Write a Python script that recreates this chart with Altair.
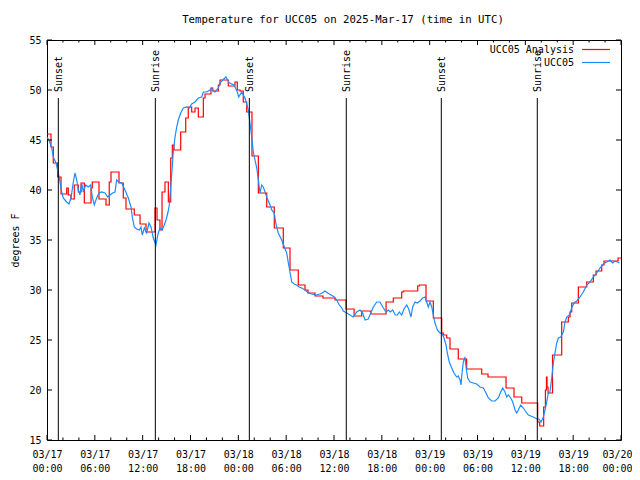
import altair as alt
import pandas as pd

FONT = "DejaVu Sans Mono"
FS = 10

TITLE = "Temperature for UCC05 on 2025-Mar-17 (time in UTC)"
Y_TITLE = "degrees F"
SERIES = ["UCC05 Analysis", "UCC05"]
COLORS = ["#ff0000", "#1a8cff"]

# hours since 2025-03-17 00:00 UTC
analysis_hours = [
    0.00, 0.50, 0.79, 1.34, 1.76, 2.47, 2.67, 3.01, 3.42, 3.93,
    4.27, 4.68, 5.52, 5.68, 6.52, 7.40, 7.81, 8.03, 9.03, 9.57,
    9.91, 10.95, 11.67, 12.42, 13.55, 13.80, 14.17, 14.43, 14.80, 15.22,
    15.52, 15.72, 15.93, 16.77, 17.40, 17.72, 18.15, 18.57, 18.98, 19.61,
    19.82, 20.57, 20.79, 21.49, 21.70, 22.74, 23.58, 23.87, 24.21, 24.62,
    25.05, 25.71, 26.51, 27.56, 28.51, 29.64, 30.48, 31.52, 32.36, 32.74,
    33.62, 34.62, 36.13, 37.51, 38.52, 39.48, 40.61, 42.53, 43.44, 44.49,
    44.69, 46.50, 46.70, 47.54, 48.46, 49.51, 49.71, 50.14, 50.55, 51.59,
    52.64, 54.53, 55.32, 57.58, 58.58, 59.55, 61.55, 61.80, 62.30, 62.52,
    62.65, 62.72, 62.85, 63.41, 64.56, 65.39, 65.61, 65.82, 66.65, 67.70,
    68.53, 68.87, 69.58, 69.87, 71.63, 72.00,
]
analysis_temp = [
    45.6, 44.3, 42.7, 41.3, 39.6, 40.2, 39.5, 39.1, 40.5, 39.8,
    40.7, 38.7, 40.2, 40.8, 39.1, 38.5, 40.8, 41.8, 40.7, 39.2,
    38.1, 37.5, 36.6, 35.8, 38.2, 37.0, 36.0, 39.8, 40.8, 38.8,
    43.2, 44.5, 44.0, 45.8, 47.2, 48.3, 47.8, 48.2, 47.3, 49.2,
    49.6, 50.2, 49.9, 50.5, 51.0, 50.4, 50.8, 50.0, 49.9, 48.8,
    47.8, 43.4, 39.7, 38.3, 36.2, 34.2, 32.0, 30.5, 30.0, 29.7,
    29.4, 29.2, 29.0, 28.1, 27.4, 27.9, 27.6, 28.8, 29.2, 29.8,
    29.9, 30.4, 30.5, 28.9, 27.2, 25.7, 25.5, 25.2, 24.1, 23.1,
    22.1, 21.6, 21.3, 20.2, 19.3, 18.7, 16.8, 16.4, 18.3, 20.0,
    21.3, 20.3, 19.7, 23.5, 26.8, 27.3, 27.8, 28.7, 30.3, 30.8,
    31.5, 31.9, 32.5, 32.9, 33.2, 33.2,
]

obs_hours = [
    0.00, 0.25, 0.59, 0.79, 1.13, 1.42, 1.63, 1.84, 2.04, 2.47,
    2.76, 3.01, 3.30, 3.51, 3.73, 3.93, 4.14, 4.35, 4.55, 4.85,
    5.18, 5.48, 5.68, 5.93, 6.23, 6.52, 6.86, 7.28, 7.61, 7.90,
    8.24, 8.53, 8.74, 9.03, 9.37, 9.78, 10.20, 10.54, 10.70, 10.95,
    11.25, 11.58, 11.79, 11.95, 12.21, 12.51, 12.79, 13.05, 13.33, 13.67,
    13.89, 14.17, 14.46, 14.71, 14.93, 15.18, 15.34, 15.64, 15.84, 16.06,
    16.27, 16.47, 16.77, 17.10, 17.52, 17.85, 18.15, 18.57, 18.98, 19.41,
    19.61, 20.03, 20.45, 20.66, 20.86, 21.07, 21.49, 21.79, 22.04, 22.45,
    22.87, 23.46, 23.87, 24.05, 24.42, 24.62, 24.84, 25.09, 25.25, 25.46,
    25.68, 25.88, 26.09, 26.31, 26.51, 26.72, 26.93, 27.13, 27.35, 27.56,
    27.97, 28.19, 28.51, 28.69, 29.01, 29.44, 29.77, 30.07, 30.27, 30.48,
    30.70, 31.02, 31.32, 31.61, 31.95, 32.36, 32.78, 33.20, 33.71, 34.25,
    34.53, 34.87, 35.21, 35.63, 36.04, 36.34, 36.67, 36.97, 37.17, 37.59,
    38.01, 38.42, 38.85, 39.26, 39.60, 39.89, 40.30, 40.61, 40.93, 41.36,
    41.77, 42.11, 42.52, 42.81, 43.06, 43.36, 43.69, 43.94, 44.19, 44.49,
    44.78, 45.12, 45.37, 45.66, 45.87, 46.16, 46.45, 46.79, 47.13, 47.42,
    47.63, 47.83, 48.04, 48.26, 48.46, 48.67, 48.96, 49.30, 49.59, 49.80,
    50.05, 50.21, 50.46, 50.77, 51.05, 51.39, 51.59, 51.81, 51.93, 52.06,
    52.22, 52.43, 52.56, 52.77, 53.06, 53.48, 53.90, 54.32, 54.73, 55.07,
    55.36, 55.79, 56.20, 56.61, 56.91, 57.16, 57.45, 57.67, 57.87, 58.17,
    58.42, 58.71, 58.92, 59.12, 59.42, 59.75, 60.09, 60.38, 60.68, 61.00,
    61.43, 61.72, 61.97, 62.26, 62.47, 62.68, 62.88, 63.09, 63.31, 63.51,
    63.72, 63.94, 64.14, 64.44, 64.77, 64.98, 65.19, 65.52, 65.82, 66.11,
    66.45, 66.86, 67.27, 67.70, 68.11, 68.53, 68.95, 69.37, 69.78, 70.21,
    70.62, 70.96, 71.25, 71.54, 71.79,
]
obs_temp = [
    45.3, 45.0, 44.2, 43.3, 42.7, 41.7, 40.8, 39.8, 39.2, 38.8,
    38.6, 39.2, 40.8, 41.7, 41.0, 40.0, 39.5, 40.7, 39.8, 40.5,
    40.3, 40.5, 39.3, 38.5, 39.2, 39.7, 39.8, 39.7, 39.3, 39.5,
    39.7, 39.8, 41.0, 40.8, 40.7, 40.0, 39.2, 38.3, 37.3, 36.3,
    36.1, 36.0, 36.3, 35.5, 36.2, 35.7, 36.7, 36.3, 35.2, 34.5,
    35.5, 36.2, 36.0, 36.5, 37.0, 37.8, 38.5, 41.5, 43.8, 45.3,
    46.3, 47.0, 47.7, 48.2, 48.3, 48.2, 48.6, 48.8, 49.2, 49.3,
    49.8, 49.8, 50.0, 50.2, 49.9, 49.8, 50.2, 50.8, 51.0, 51.3,
    50.7, 50.5, 49.8, 49.3, 49.8, 49.5, 49.2, 48.5, 48.0, 46.7,
    45.3, 43.8, 43.0, 42.2, 41.0, 39.7, 40.5, 40.3, 39.8, 39.3,
    38.5, 38.0, 37.7, 36.7, 35.7, 35.0, 34.3, 33.7, 32.7, 31.8,
    30.8, 30.6, 30.5, 30.3, 30.2, 30.0, 29.7, 29.6, 29.5, 29.6,
    29.7, 29.9, 29.7, 29.5, 29.3, 29.0, 28.5, 28.2, 27.9, 27.7,
    27.5, 27.3, 27.8, 28.0, 27.7, 27.0, 27.1, 27.7, 28.3, 28.8,
    28.8, 28.3, 27.8, 28.0, 27.8, 28.0, 27.5, 27.5, 27.8, 27.5,
    28.1, 28.5, 28.1, 27.3, 28.3, 28.8, 28.7, 28.9, 29.2, 29.3,
    28.8, 28.3, 28.8, 28.3, 27.5, 26.7, 26.0, 25.7, 25.6, 25.2,
    24.5, 23.7, 22.8, 22.2, 21.7, 21.3, 21.4, 21.0, 20.5, 21.7,
    22.8, 23.3, 22.3, 21.2, 20.8, 20.7, 20.6, 20.3, 20.2, 19.7,
    19.2, 18.9, 18.9, 19.2, 19.8, 20.2, 19.8, 19.3, 19.5, 19.2,
    18.8, 18.0, 17.7, 18.0, 18.5, 18.2, 17.8, 17.5, 17.4, 17.3,
    17.1, 17.1, 16.8, 17.3, 18.0, 18.8, 19.7, 19.8, 21.2, 22.7,
    23.7, 24.7, 25.2, 25.3, 25.8, 26.8, 27.3, 27.5, 28.2, 28.7,
    28.9, 29.3, 29.8, 30.5, 30.8, 31.3, 31.7, 32.2, 32.6, 32.8,
    33.0, 32.7, 32.9, 32.8, 32.7,
]

sun_hours = [1.42, 13.59, 25.38, 37.54, 49.46, 61.50]
sun_labels = ["Sunset", "Sunrise", "Sunset", "Sunrise", "Sunset", "Sunrise"]

major_ticks = [0, 6, 12, 18, 24, 30, 36, 42, 48, 54, 60, 66, 72]
minor_ticks = [2, 4, 8, 10, 14, 16, 20, 22, 26, 28, 32, 34, 38, 40,
               44, 46, 50, 52, 56, 58, 62, 64, 68, 70]
y_ticks = [15, 20, 25, 30, 35, 40, 45, 50, 55]

W, H = 574, 400

xs = alt.Scale(domain=[0, 72], nice=False, zero=False)
ys = alt.Scale(domain=[15, 55], nice=False, zero=False)

x_label_expr = ("['03/' + (17 + floor(datum.value / 24)), "
                "(datum.value % 24 < 10 ? '0' : '') + (datum.value % 24) + ':00']")

X_AXIS = alt.Axis(
    values=major_ticks, labelExpr=x_label_expr, ticks=False, domain=False,
    grid=False, labelPadding=9, labelLineHeight=14, labelOverlap=False,
    labelFlush=False, title=None, labelBaseline="top",
    labelOffset={"condition": {"test": "datum.value == 72", "value": -4}, "value": 0})
Y_AXIS = alt.Axis(
    values=y_ticks, ticks=False, domain=False, grid=False, labelPadding=6,
    labelOverlap=False, labelFlush=False,
    title=Y_TITLE, titleX=-32, titleY=200, titleAngle=270,
    titleAlign="center", titleBaseline="middle")


def X(field):
    return alt.X(field, scale=xs, axis=X_AXIS)


def Y(field):
    return alt.Y(field, scale=ys, axis=Y_AXIS)


analysis_df = pd.DataFrame({"h": analysis_hours, "t": analysis_temp})
obs_df = pd.DataFrame({"h": obs_hours, "t": obs_temp})
sun_df = pd.DataFrame({"h": sun_hours, "label": sun_labels})
major_df = pd.DataFrame({"h": major_ticks})
minor_df = pd.DataFrame({"h": minor_ticks})
ytick_df = pd.DataFrame({"t": y_ticks})

red = alt.Chart(analysis_df).mark_line(
    interpolate="step-after", color=COLORS[0], strokeWidth=1.2
).encode(x=X("h:Q"), y=Y("t:Q"))

blue = alt.Chart(obs_df).mark_line(color=COLORS[1], strokeWidth=1.2).encode(
    x=X("h:Q"), y=Y("t:Q"))

sun_rules = alt.Chart(sun_df).mark_rule(color="black", strokeWidth=1).encode(
    x=X("h:Q"), y=alt.value(58), y2=alt.value(H))
sun_text = alt.Chart(sun_df).mark_text(
    angle=270, align="left", baseline="middle", font=FONT, fontSize=FS,
    color="black", dy=1
).encode(x=X("h:Q"), y=alt.value(52), text="label:N")


def xticks(df, length):
    bottom = alt.Chart(df).mark_rule(color="black").encode(
        x=X("h:Q"), y=alt.value(H), y2=alt.value(H - length))
    top = alt.Chart(df).mark_rule(color="black").encode(
        x=X("h:Q"), y=alt.value(0), y2=alt.value(length))
    return [bottom, top]


yt_left = alt.Chart(ytick_df).mark_rule(color="black").encode(
    y=Y("t:Q"), x=alt.value(0), x2=alt.value(5))
yt_right = alt.Chart(ytick_df).mark_rule(color="black").encode(
    y=Y("t:Q"), x=alt.value(W - 5), x2=alt.value(W))

leg_text1 = alt.Chart(pd.DataFrame({"name": [SERIES[0]]})).mark_text(
    align="right", baseline="middle", font=FONT, fontSize=FS, color="black"
).encode(text="name:N", x=alt.value(527), y=alt.value(10))
leg_text2 = alt.Chart(pd.DataFrame({"name": [SERIES[1]]})).mark_text(
    align="right", baseline="middle", font=FONT, fontSize=FS, color="black"
).encode(text="name:N", x=alt.value(527), y=alt.value(23))
leg_line1 = alt.Chart(pd.DataFrame({"name": [SERIES[0]]})).mark_rule(
    color=COLORS[0], strokeWidth=1.2
).encode(x=alt.value(535), x2=alt.value(563), y=alt.value(9.5))
leg_line2 = alt.Chart(pd.DataFrame({"name": [SERIES[1]]})).mark_rule(
    color=COLORS[1], strokeWidth=1.2
).encode(x=alt.value(535), x2=alt.value(563), y=alt.value(22.5))

title = alt.Chart(pd.DataFrame({"t": [TITLE]})).mark_text(
    align="center", baseline="middle", font=FONT, fontSize=10.7, color="black"
).encode(text="t:N", x=alt.value(296), y=alt.value(-20))

layers = [red, blue, sun_rules, sun_text] + xticks(major_df, 5) + xticks(minor_df, 2.5) + [
    yt_left, yt_right, leg_text1, leg_line1, leg_text2, leg_line2, title]

chart = alt.layer(*layers).properties(
    width=W, height=H,
    autosize=alt.AutoSizeParams(type="none"),
    padding={"left": 39, "top": 32, "right": 11, "bottom": 32},
    background="white",
).configure_view(stroke="black", strokeWidth=1).configure_axis(
    labelFont=FONT, labelFontSize=FS, labelColor="black",
    titleFont=FONT, titleFontSize=FS, titleColor="black", titleFontWeight="normal",
)

chart.save("out.html", embed_options={"renderer": "svg", "actions": False})
